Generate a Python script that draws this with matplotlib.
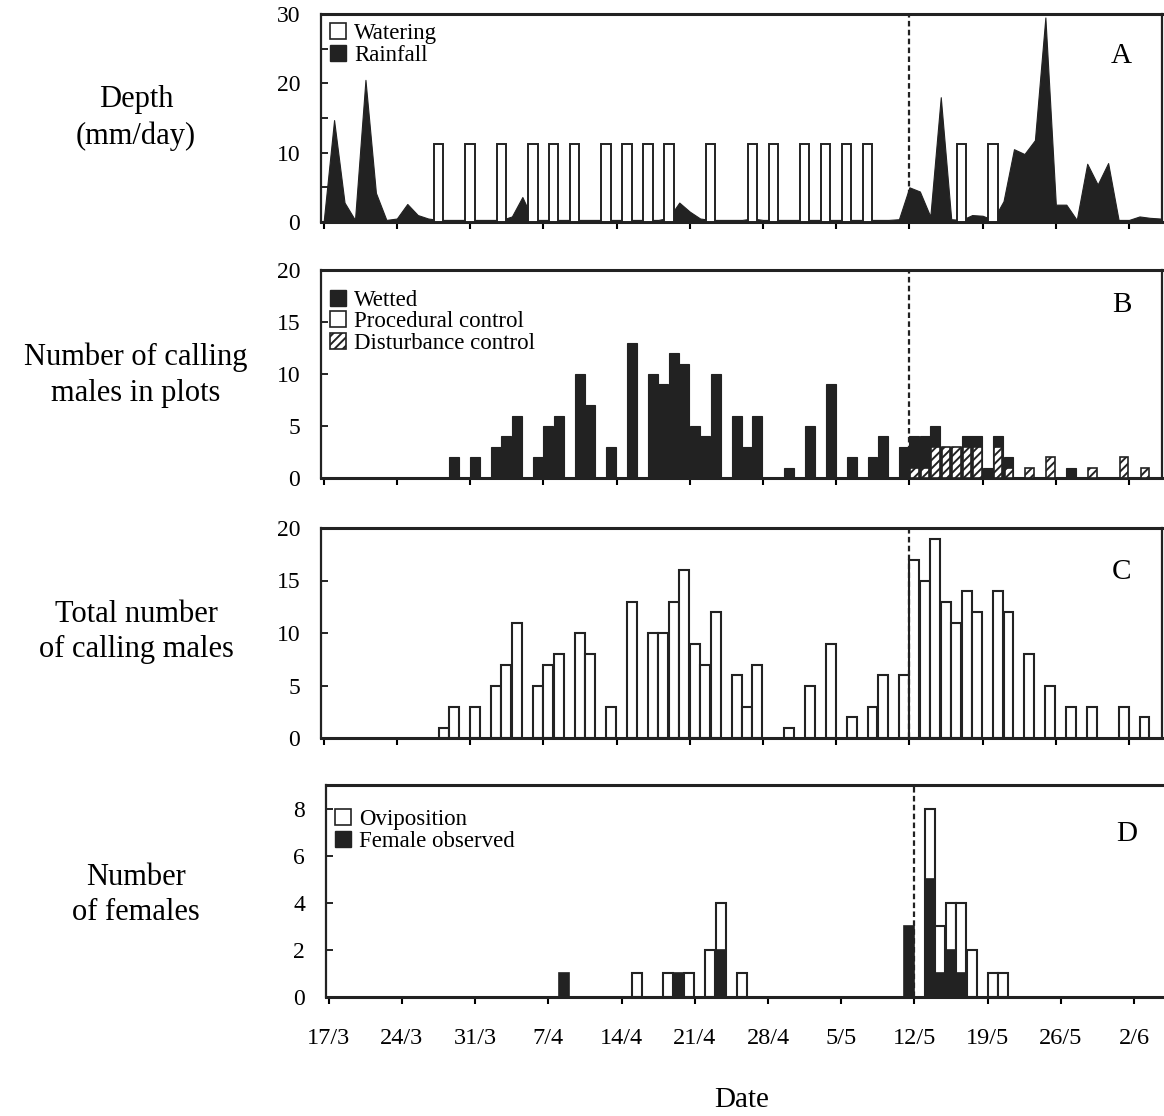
import matplotlib
matplotlib.use('Agg')
import matplotlib.pyplot as plt
from matplotlib.patches import Patch

plt.rcParams['font.family'] = ['Liberation Serif', 'DejaVu Serif']
plt.rcParams['hatch.linewidth'] = 1.4

# day 0 = 17/3
date_ticks = [0, 7, 14, 21, 28, 35, 42, 49, 56, 63, 70, 77]
date_labels = ['17/3', '24/3', '31/3', '7/4', '14/4', '21/4', '28/4',
               '5/5', '12/5', '19/5', '26/5', '2/6']
treatment_day = 56

# A: depth (mm/day)
rain_days = list(range(81))
rain = [0.0, 14.7, 2.8, 0.3, 20.5, 4.2, 0.3, 0.5, 2.6, 1.0,
        0.5, 0.3, 0.3, 0.3, 0.3, 0.3, 0.3, 0.3, 0.8, 3.6,
        0.3, 0.3, 0.3, 0.3, 0.3, 0.3, 0.3, 0.3, 0.3, 0.3,
        0.3, 0.3, 0.3, 0.6, 2.8, 1.5, 0.5, 0.3, 0.3, 0.3,
        0.3, 0.5, 0.3, 0.3, 0.3, 0.3, 0.3, 0.3, 0.3, 0.3,
        0.3, 0.3, 0.3, 0.3, 0.3, 0.4, 5.0, 4.4, 0.8, 18.0,
        0.4, 0.3, 1.0, 0.9, 0.3, 3.0, 10.5, 9.8, 11.8, 29.5,
        2.5, 2.5, 0.3, 8.4, 5.4, 8.5, 0.3, 0.3, 0.8, 0.6, 0.5]
water_days = [11, 14, 17, 20, 22, 24, 27, 29, 31, 33, 37,
              41, 43, 46, 48, 50, 52, 61, 64]
water_depth = 11.3

# B: calling males in plots
wet_days = [12, 14, 16, 17, 18, 20, 21, 22, 24, 25, 27, 29, 31, 32, 33, 34,
            35, 36, 37, 39, 40, 41, 44, 46, 48, 50, 52, 53, 55, 56, 57, 58,
            59, 60, 61, 62, 63, 64, 65, 71]
wet_vals = [2, 2, 3, 4, 6, 2, 5, 6, 10, 7, 3, 13, 10, 9, 12, 11,
            5, 4, 10, 6, 3, 6, 1, 5, 9, 2, 2, 4, 3, 4, 4, 5,
            3, 3, 4, 4, 1, 4, 2, 1]
proc_days = []
proc_vals = []
dist_days = [56, 57, 58, 59, 60, 61, 62, 64, 65, 67, 69, 73, 76, 78]
dist_vals = [1, 1, 3, 3, 3, 3, 3, 3, 1, 1, 2, 1, 2, 1]

# C: total calling males
tot_days = [11, 12, 14, 16, 17, 18, 20, 21, 22, 24, 25, 27, 29, 31, 32, 33,
            34, 35, 36, 37, 39, 40, 41, 44, 46, 48, 50, 52, 53, 55, 56, 57,
            58, 59, 60, 61, 62, 64, 65, 67, 69, 71, 73, 76, 78]
tot_vals = [1, 3, 3, 5, 7, 11, 5, 7, 8, 10, 8, 3, 13, 10, 10, 13,
            16, 9, 7, 12, 6, 3, 7, 1, 5, 9, 2, 3, 6, 6, 17, 15,
            19, 13, 11, 14, 12, 14, 12, 8, 5, 3, 3, 3, 2]

# D: females
ovi_days = [29, 32, 34, 36, 37, 39, 57, 58, 59, 60, 61, 63, 64]
ovi_vals = [1, 1, 1, 2, 4, 1, 8, 3, 4, 4, 2, 1, 1]
fem_days = [22, 33, 37, 55, 57, 58, 59, 60]
fem_vals = [1, 1, 2, 3, 5, 1, 2, 1]

DARK = '#222222'
W, H = 1164, 1116
fig = plt.figure(figsize=(W / 100, H / 100), dpi=100)


def box(left, top, right, bottom):
    return fig.add_axes([left / W, 1 - bottom / H, (right - left) / W, (bottom - top) / H])


def style(ax, ymax, yticks, minor=None, show_dates=False):
    ax.set_xlim(-0.25, 80.15)
    ax.set_ylim(0, ymax)
    ax.set_xticks(date_ticks)
    if show_dates:
        ax.set_xticklabels(date_labels, fontsize=17.5)
    else:
        ax.set_xticklabels([])
    ax.set_yticks(yticks)
    ax.set_yticklabels([str(t) for t in yticks], fontsize=17)
    if minor is not None:
        ax.set_yticks(minor, minor=True)
    ax.tick_params(axis='y', which='both', direction='in', length=5, width=1.2, pad=15)
    ax.tick_params(axis='x', direction='out', length=5, width=1.5, pad=17)
    for s in ax.spines.values():
        s.set_linewidth(1.6)
        s.set_color(DARK)
    ax.spines['top'].set_linewidth(2.2)
    ax.spines['bottom'].set_linewidth(2.2)
    ax.axvline(treatment_day, color=DARK, lw=1.6, ls=(0, (2.5, 1.5)), zorder=5)


def legend(ax, handles, labels, anchor=(0.0, 1.0)):
    ax.legend(handles, labels, loc='upper left', bbox_to_anchor=anchor,
              frameon=False, handlelength=0.7, handleheight=0.7,
              handletextpad=0.35, labelspacing=0.02, borderaxespad=0.2,
              borderpad=0.2, prop={'size': 16.5})


def panel_letter(ax, letter, y):
    ax.text(0.952, y, letter, transform=ax.transAxes, fontsize=21,
            ha='center', va='center')


black_patch = Patch(facecolor=DARK, edgecolor=DARK)
white_patch = Patch(facecolor='white', edgecolor=DARK, linewidth=1.2)
hatch_patch = Patch(facecolor='white', edgecolor=DARK, hatch='////', linewidth=1.2)

# ---- A
axA = box(321, 14, 1162, 222)
axA.fill_between(rain_days, rain, color=DARK, lw=0.8, zorder=2)
axA.bar(water_days, [water_depth] * len(water_days), width=0.9,
        color='white', edgecolor=DARK, linewidth=1.4, zorder=3)
style(axA, 30, [0, 10, 20, 30], minor=[5, 15, 25])
legend(axA, [white_patch, black_patch], ['Watering', 'Rainfall'])
panel_letter(axA, 'A', 0.80)

# ---- B
axB = box(321, 270, 1162, 478)
axB.bar(wet_days, wet_vals, width=0.95, align='edge', color=DARK,
        edgecolor=DARK, linewidth=0.8, zorder=2)
axB.bar(proc_days, proc_vals, width=0.8, align='edge', color='white',
        edgecolor=DARK, linewidth=1.2, zorder=3)
axB.bar([d + 0.1 for d in dist_days], dist_vals, width=0.8, align='edge',
        color='white', edgecolor=DARK, hatch='////', linewidth=1.2, zorder=3)
style(axB, 20, [0, 5, 10, 15, 20])
legend(axB, [black_patch, white_patch, hatch_patch],
       ['Wetted', 'Procedural control', 'Disturbance control'], anchor=(0.0, 0.95))
panel_letter(axB, 'B', 0.83)

# ---- C
axC = box(321, 528, 1162, 738)
axC.bar(tot_days, tot_vals, width=0.95, align='edge', color='white',
        edgecolor=DARK, linewidth=1.5, zorder=2)
style(axC, 20, [0, 5, 10, 15, 20])
panel_letter(axC, 'C', 0.79)

# ---- D
axD = box(326, 785, 1167, 997)
axD.bar(ovi_days, ovi_vals, width=0.95, align='edge', color='white',
        edgecolor=DARK, linewidth=1.5, zorder=2)
axD.bar(fem_days, fem_vals, width=0.95, align='edge', color=DARK,
        edgecolor=DARK, linewidth=1.2, zorder=3)
style(axD, 9, [0, 2, 4, 6, 8], show_dates=True)
legend(axD, [white_patch, black_patch], ['Oviposition', 'Female observed'],
       anchor=(0.0, 0.93))
panel_letter(axD, 'D', 0.77)

# ---- row titles
row_labels = [('Depth\n(mm/day)', 118), ('Number of calling\nmales in plots', 375),
              ('Total number\nof calling males', 632), ('Number\nof females', 895)]
for text, y in row_labels:
    fig.text(136 / W, 1 - y / H, text, ha='center', va='center',
             fontsize=22, linespacing=1.3)

fig.text(742 / W, 1 - 1100 / H, 'Date', ha='center', va='center', fontsize=21)

fig.savefig('out.png', dpi=100, facecolor='white')
